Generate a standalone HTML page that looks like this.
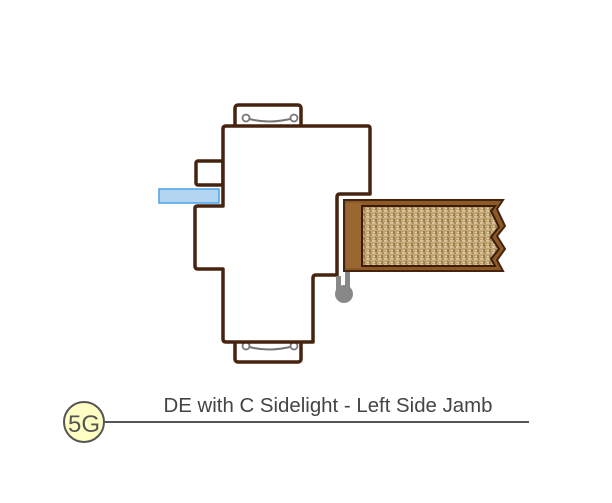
<!DOCTYPE html>
<html><head><meta charset="utf-8"><style>
html,body{margin:0;padding:0;background:#fff;width:612px;height:503px;overflow:hidden}
</style></head><body>
<svg width="612" height="503" viewBox="0 0 612 503" xmlns="http://www.w3.org/2000/svg">
<defs>
<pattern id="cork" width="6" height="6" patternUnits="userSpaceOnUse">
<rect width="6" height="6" fill="#c2a574"/>
<rect x="0" y="0" width="3" height="2" fill="#d8c29a"/>
<rect x="3" y="3" width="2" height="3" fill="#9c7e4c"/>
<rect x="1" y="4" width="2" height="1" fill="#e2d2aa"/>
<rect x="4" y="0" width="2" height="2" fill="#b08f5c"/>
</pattern>
</defs>
<!-- hinges -->
<rect x="235" y="105" width="66" height="22" rx="3" fill="none" stroke="#45230f" stroke-width="3.5"/>
<path d="M246 118 Q268 125 294 118" fill="none" stroke="#777" stroke-width="2"/>
<circle cx="246" cy="118" r="3.5" fill="#fff" stroke="#777" stroke-width="1.8"/>
<circle cx="294" cy="118" r="3.5" fill="#fff" stroke="#777" stroke-width="1.8"/>
<rect x="235" y="340" width="66" height="22" rx="3" fill="none" stroke="#45230f" stroke-width="3.5"/>
<path d="M246 346 Q268 353 294 346" fill="none" stroke="#777" stroke-width="2"/>
<circle cx="246" cy="346" r="3.5" fill="#fff" stroke="#777" stroke-width="1.8"/>
<circle cx="294" cy="346" r="3.5" fill="#fff" stroke="#777" stroke-width="1.8"/>
<line x1="236" y1="126" x2="293" y2="126" stroke="#45230f" stroke-width="3"/>
<line x1="236" y1="338" x2="293" y2="338" stroke="#45230f" stroke-width="3"/>
<!-- small box -->
<rect x="196" y="161" width="27" height="24" rx="2" fill="#fff" stroke="#45230f" stroke-width="3.5"/>
<!-- frame -->
<path d="M223 129 Q223 126 226 126 L368 126 Q370 126 370 129 L370 194 L340 194 Q337 194 337 197 L337 275 L316 275 Q313 275 313 278 L313 342 L226 342 Q223 342 223 339 L223 269 L198 269 Q195 269 195 266 L195 208 Q195 206 198 206 L223 206 Z" fill="#fff" stroke="#45230f" stroke-width="3.5" stroke-linejoin="round"/>
<!-- blue -->
<rect x="159" y="189" width="60" height="14" fill="#b3d6f2" stroke="#4aa3ea" stroke-width="1.5"/>
<!-- gray -->
<rect x="336" y="276" width="5" height="14" fill="#888"/>
<rect x="345" y="271" width="5" height="19" fill="#888"/>
<circle cx="344" cy="294" r="9" fill="#888"/>
<!-- door -->
<path d="M344 200 L503 200 L497 209 L505 226 L497 236 L505 249 L497 260 L503 271 L344 271 Z" fill="#8b5a26" stroke="#45230f" stroke-width="2"/>
<rect x="346" y="203" width="16" height="65" fill="#9a6632"/>
<path d="M362 206 L495 206 L491 211 L499 227 L491 237 L499 249 L491 259 L495 266 L362 266 Z" fill="url(#cork)" stroke="#3a1c08" stroke-width="2"/>
<!-- label -->
<line x1="104" y1="422" x2="529" y2="422" stroke="#555" stroke-width="2"/>
<circle cx="84" cy="422" r="20" fill="#ffffc4" stroke="#555" stroke-width="2"/>
<text x="84" y="432" text-anchor="middle" font-family="Liberation Sans, sans-serif" font-size="24" fill="#555">5G</text>
<text x="328" y="412" text-anchor="middle" font-family="Liberation Sans, sans-serif" font-size="20" fill="#444" textLength="329" lengthAdjust="spacingAndGlyphs">DE with C Sidelight - Left Side Jamb</text>
</svg>
</body></html>
